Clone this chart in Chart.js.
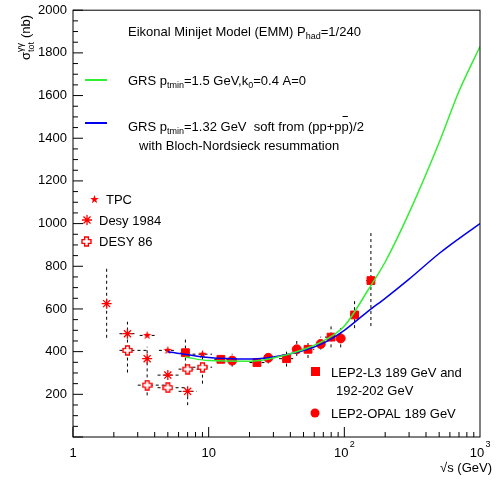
<!DOCTYPE html>
<html><head><meta charset="utf-8">
<script src="https://cdn.jsdelivr.net/npm/chart.js@4"></script>
<style>body{margin:0;background:#fff}#wrap{width:497px;height:483px}</style>
</head><body><div id="wrap"><canvas id="c"></canvas></div>
<script>
// data: [sqrt s, sigma, xlo, xhi, ylo, yhi]
const tpc = [[3.52,476,3.1,4.0,476,476],[5.0,406,4.3,5.8,406,406],[9.0,388,7.6,10.6,388,388]];
const desy84 = [[1.77,625,1.7,1.85,465,790],[2.52,484,2.2,2.9,302,540],[3.52,367,3.52,3.52,195,423],[5.0,290,4.2,6.0,290,290],[7.0,214,6.0,8.2,149,214]];
const desy86 = [[2.52,406,2.2,3.5,406,406],[3.52,243,3.0,5.0,243,243],[5.0,231,4.2,7.0,231,231],[7.0,318,6.0,9.0,318,318],[9.0,327,7.6,10.6,250,400]];
const l3 = [[6.74,395,6.2,7.3,330,460],[12.3,364,11,14,364,364],[22.7,349,20,26,349,349],[37.5,367,33,42,330,400],[54,411,48,60,370,450],[79.8,468,72,88,420,520],[119,572,110,128,510,640],[157,733,145,170,520,960]];
const opal = [[14.9,358,14.9,14.9,330,390],[27.5,371,27.5,27.5,345,400],[44.6,411,44.6,44.6,380,450],[67,436,67,67,410,470],[94,462,94,94,420,510]];
const greenX = [6.7,10,20,30,50,70,100,150,200,300,500,700,1000];
const greenY = [375,358,355,370,410,450,520,690,820,1050,1380,1620,1830];
const blueX = [5,10,20,30,50,70,100,150,200,300,500,700,1000];
const blueY = [400,372,365,375,405,440,500,590,650,740,860,930,1000];

function icon(draw, s) {
  const c = document.createElement('canvas'); c.width = s; c.height = s;
  const g = c.getContext('2d'); draw(g, s); return c;
}
const starImg = icon((g, s) => {
  g.fillStyle = 'red'; g.beginPath();
  for (let i = 0; i < 10; i++) {
    const r = i % 2 ? s * 0.2 : s * 0.5, a = -Math.PI / 2 + i * Math.PI / 5;
    g.lineTo(s / 2 + r * Math.cos(a), s / 2 + r * Math.sin(a));
  }
  g.fill();
}, 9);
const crossImg = icon((g, s) => {
  const a = s * 0.33, b = s - a;
  g.strokeStyle = 'red'; g.lineWidth = 1.4; g.fillStyle = '#fff'; g.beginPath();
  g.moveTo(a, 1); g.lineTo(b, 1); g.lineTo(b, a); g.lineTo(s - 1, a); g.lineTo(s - 1, b);
  g.lineTo(b, b); g.lineTo(b, s - 1); g.lineTo(a, s - 1); g.lineTo(a, b); g.lineTo(1, b);
  g.lineTo(1, a); g.lineTo(a, a); g.closePath(); g.fill(); g.stroke();
}, 11);

const pts = arr => arr.map(p => ({x: p[0], y: p[1]}));
const sets = [tpc, desy84, desy86, l3, opal];

const decor = {
  id: 'decor',
  beforeDatasetsDraw(chart) {
    const {ctx, scales: {x, y}} = chart;
    ctx.save(); ctx.strokeStyle = '#000'; ctx.lineWidth = 1; ctx.setLineDash([3, 3]);
    sets.forEach(s => s.forEach(p => {
      ctx.beginPath();
      ctx.moveTo(x.getPixelForValue(p[2]), y.getPixelForValue(p[1]));
      ctx.lineTo(x.getPixelForValue(p[3]), y.getPixelForValue(p[1]));
      ctx.moveTo(x.getPixelForValue(p[0]), y.getPixelForValue(p[4]));
      ctx.lineTo(x.getPixelForValue(p[0]), y.getPixelForValue(p[5]));
      ctx.stroke();
    }));
    ctx.restore();
  },
  afterDraw(chart) {
    const {ctx, chartArea: a, scales: {x, y}} = chart;
    ctx.save(); ctx.strokeStyle = '#000'; ctx.lineWidth = 1;
    ctx.strokeRect(a.left, a.top, a.right - a.left, a.bottom - a.top);
    ctx.beginPath();
    for (let v = 0; v <= 2000; v += 50) {
      const py = y.getPixelForValue(v), len = v % 200 === 0 ? 10 : 5;
      ctx.moveTo(a.left, py); ctx.lineTo(a.left + len, py);
    }
    for (let d = 0; d < 3; d++) for (let m = 1; m < 10; m++) {
      const px = x.getPixelForValue(m * Math.pow(10, d)), len = m === 1 ? 10 : 5;
      ctx.moveTo(px, a.bottom); ctx.lineTo(px, a.bottom - len);
    }
    ctx.stroke();
    ctx.fillStyle = '#000'; ctx.font = '13px "Liberation Sans", Arial';
    ctx.textAlign = 'right'; ctx.textBaseline = 'middle';
    for (let v = 200; v <= 2000; v += 200) ctx.fillText(v, a.left - 6, y.getPixelForValue(v));
    ctx.textAlign = 'center'; ctx.textBaseline = 'top';
    ctx.fillText('1', x.getPixelForValue(1), a.bottom + 10);
    ctx.fillText('10', x.getPixelForValue(10), a.bottom + 10);
    [[100, '2'], [1000, '3']].forEach(([v, e]) => {
      const px = x.getPixelForValue(v);
      ctx.fillText('10', px - 3, a.bottom + 10);
      ctx.font = '9px "Liberation Sans", Arial'; ctx.fillText(e, px + 8, a.bottom + 3);
      ctx.font = '13px "Liberation Sans", Arial';
    });
    ctx.textAlign = 'right'; ctx.fillText('\u221As (GeV)', a.right + 12, a.bottom + 25);
    // y title
    ctx.save(); ctx.translate(30, 60); ctx.rotate(-Math.PI / 2); ctx.textAlign = 'left'; ctx.textBaseline = 'alphabetic';
    ctx.fillText('\u03C3', 0, 0);
    ctx.font = '9px "Liberation Sans", Arial'; ctx.fillText('\u03B3\u03B3', 8, -7); ctx.fillText('tot', 8, 4);
    ctx.font = '13px "Liberation Sans", Arial'; ctx.fillText('(nb)', 22, 0);
    ctx.restore();
    // texts and legends
    ctx.textAlign = 'left'; ctx.textBaseline = 'alphabetic';
    const sub = (parts, px, py) => {
      parts.forEach(([t, s]) => {
        ctx.font = (s ? '9px' : '13px') + ' "Liberation Sans", Arial';
        ctx.fillText(t, px, py + (s ? 3 : 0)); px += ctx.measureText(t).width;
      });
      return px;
    };
    sub([['Eikonal Minijet Model (EMM) P', 0], ['had', 1], ['=1/240', 0]], 128, 36);
    sub([['GRS p', 0], ['tmin', 1], ['=1.5 GeV,k', 0], ['0', 1], ['=0.4 A=0', 0]], 128, 85);
    const bx = sub([['GRS p', 0], ['tmin', 1], ['=1.32 GeV  soft from (pp+p', 0]], 128, 131);
    sub([['p)/2', 0]], bx, 131);
    ctx.font = '13px "Liberation Sans", Arial';
    ctx.fillRect(bx + 1, 116, ctx.measureText('p').width - 2, 1);
    ctx.fillText('with Bloch-Nordsieck resummation', 139, 150);
    ctx.fillStyle = '#33ee33'; ctx.fillRect(85, 79, 22, 2);
    ctx.fillStyle = '#0000ee'; ctx.fillRect(85, 122, 22, 2);
    ctx.fillStyle = '#000';
    ctx.fillText('TPC', 106, 204); ctx.fillText('Desy 1984', 99, 225); ctx.fillText('DESY 86', 99, 246);
    ctx.fillText('LEP2-L3 189 GeV and', 331, 377); ctx.fillText('192-202 GeV', 336, 395);
    ctx.fillText('LEP2-OPAL 189 GeV', 331, 418);
    ctx.drawImage(starImg, 90, 195);
    ctx.drawImage(crossImg, 81, 236);
    ctx.fillStyle = 'red'; ctx.fillRect(311, 367, 9, 9);
    ctx.beginPath(); ctx.arc(315, 413, 4.5, 0, 7); ctx.fill();
    ctx.strokeStyle = 'red'; ctx.lineWidth = 1.3; ctx.beginPath();
    for (let i = 0; i < 4; i++) { const an = i * Math.PI / 4; ctx.moveTo(87 - 5 * Math.cos(an), 220 - 5 * Math.sin(an)); ctx.lineTo(87 + 5 * Math.cos(an), 220 + 5 * Math.sin(an)); }
    ctx.stroke();
    ctx.restore();
  }
};

new Chart(document.getElementById('c'), {
  type: 'scatter',
  data: {datasets: [
    {data: greenX.map((v, i) => ({x: v, y: greenY[i]})), showLine: true, borderColor: '#33ee33', borderWidth: 1.5, pointRadius: 0, cubicInterpolationMode: 'monotone'},
    {data: blueX.map((v, i) => ({x: v, y: blueY[i]})), showLine: true, borderColor: '#0000ee', borderWidth: 1.5, pointRadius: 0, cubicInterpolationMode: 'monotone'},
    {data: pts(tpc), pointStyle: starImg},
    {data: pts(desy84), pointStyle: 'star', radius: 5, borderColor: 'red', borderWidth: 1.3},
    {data: pts(desy86), pointStyle: crossImg},
    {data: pts(l3), pointStyle: 'rect', radius: 5.5, backgroundColor: 'red', borderColor: 'red'},
    {data: pts(opal), pointStyle: 'circle', radius: 4.5, backgroundColor: 'red', borderColor: 'red'}
  ]},
  options: {
    responsive: true, maintainAspectRatio: false, animation: false,
    layout: {padding: {top: 5, right: 17}},
    plugins: {legend: {display: false}, tooltip: {enabled: false}},
    scales: {
      x: {type: 'logarithmic', min: 1, max: 1000, grid: {display: false}, border: {display: false},
          ticks: {callback: () => ''}, afterFit: s => { s.height = 46; }},
      y: {min: 0, max: 2000, grid: {display: false}, border: {display: false},
          ticks: {callback: () => ''}, afterFit: s => { s.width = 73; }}
    }
  },
  plugins: [decor]
});
</script></body></html>
